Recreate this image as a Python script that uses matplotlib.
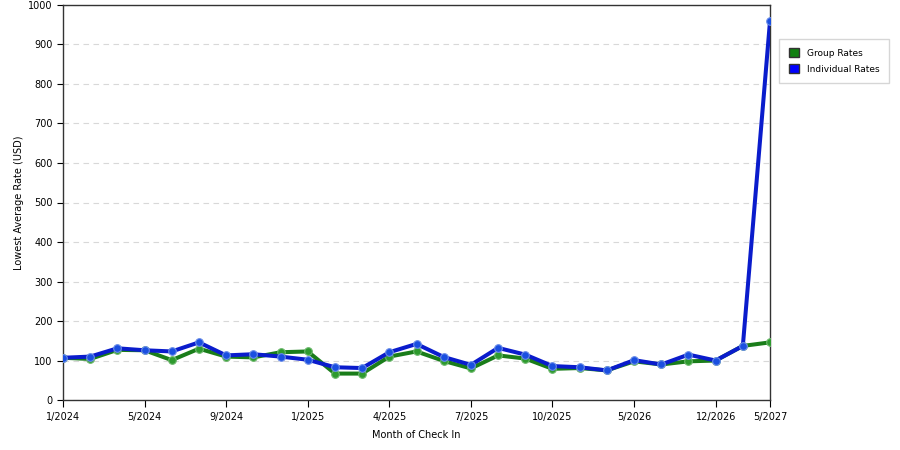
import matplotlib.pyplot as plt
from matplotlib.patches import Patch

months = ['1/2024', '3/2024', '4/2024', '5/2024', '6/2024', '8/2024', '9/2024',
          '10/2024', '12/2024', '1/2025', '2/2025', '3/2025', '4/2025', '5/2025',
          '6/2025', '7/2025', '8/2025', '9/2025', '10/2025', '12/2025', '3/2026',
          '5/2026', '7/2026', '10/2026', '12/2026', '3/2027', '5/2027']
group_rates = [107, 104, 127, 126, 101, 130, 110, 108, 121, 123, 67, 67, 110, 123,
               99, 80, 113, 105, 79, 81, 75, 98, 90, 98, 100, 137, 146]
individual_rates = [107, 110, 131, 126, 123, 146, 113, 116, 110, 102, 83, 81, 121, 142,
                    109, 89, 132, 115, 86, 83, 75, 101, 90, 115, 100, 137, 960]
shown_labels = ['1/2024', '5/2024', '9/2024', '1/2025', '4/2025', '7/2025',
                '10/2025', '5/2026', '12/2026', '5/2027']

fig = plt.figure(figsize=(9, 4.5), dpi=100)
ax = fig.add_axes([0.07, 0.111, 0.7856, 0.878])

x = list(range(len(months)))
ax.plot(x, group_rates, color='#1a7d1a', lw=2.9, marker='o', markersize=5.5,
        markerfacecolor='#2e9a2e', markeredgecolor='#6cb86c', markeredgewidth=0.8, zorder=3)
ax.plot(x, individual_rates, color='#0a1ccc', lw=2.9, marker='o', markersize=5.5,
        markerfacecolor='#1a4fe0', markeredgecolor='#6a8ce8', markeredgewidth=0.8, zorder=4)

ax.set_xlim(0, len(months) - 1)
ax.set_ylim(0, 1000)
ax.set_yticks(range(0, 1001, 100))
ax.tick_params(axis='y', labelsize=7, length=4)
ticks = [months.index(m) for m in shown_labels]
ax.set_xticks(ticks)
ax.set_xticklabels(shown_labels, fontsize=7)
ax.tick_params(axis='x', length=5)
ax.grid(axis='y', color='#d8d8d8', linestyle=(0, (5, 4)), lw=0.8)
ax.set_axisbelow(True)
for s in ax.spines.values():
    s.set_color('#333333')
    s.set_linewidth(1)

ax.set_xlabel('Month of Check In', fontsize=7, labelpad=6)
ax.set_ylabel('Lowest Average Rate (USD)', fontsize=7, labelpad=3)

handles = [Patch(facecolor='#108010', edgecolor='#333333', label='Group Rates'),
           Patch(facecolor='#0000ff', edgecolor='#333333', label='Individual Rates')]
fig.legend(handles=handles, loc='upper left', bbox_to_anchor=(0.861, 0.924),
           fontsize=6.5, frameon=True, fancybox=False, edgecolor='#cccccc',
           handlelength=1.1, handleheight=1.1, borderpad=1.05, labelspacing=0.75,
           handletextpad=0.9)

fig.savefig('out.png', dpi=100)
